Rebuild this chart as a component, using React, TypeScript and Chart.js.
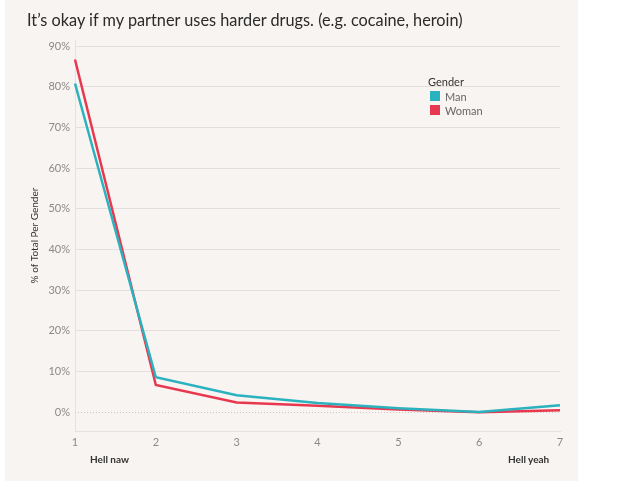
import React, { useRef, useEffect } from 'react';
import { Chart, registerables, Plugin } from 'chart.js';

Chart.register(...registerables);

const categories = ['1', '2', '3', '4', '5', '6', '7'];
const manValues = [80.8, 8.6, 4.2, 2.3, 1.0, 0.1, 1.7];
const womanValues = [86.7, 6.7, 2.4, 1.6, 0.7, 0.0, 0.5];
const yTicks = [0, 10, 20, 30, 40, 50, 60, 70, 80, 90];

const MAN_COLOR = '#2bb2bf';
const WOMAN_COLOR = '#e8384f';
const FONT = 'Lato, "Noto Sans", sans-serif';

// dotted zero line, Tableau style
const zeroLine: Plugin<'line'> = {
  id: 'zeroLine',
  beforeDatasetsDraw(chart) {
    const { ctx, chartArea, scales } = chart;
    const y = Math.round(scales.y.getPixelForValue(0)) + 0.5;
    ctx.save();
    ctx.strokeStyle = '#c9c5c2';
    ctx.lineWidth = 1;
    ctx.setLineDash([1, 2]);
    ctx.beginPath();
    ctx.moveTo(chartArea.left, y);
    ctx.lineTo(chartArea.right, y);
    ctx.stroke();
    ctx.restore();
  },
};

const App: React.FC = () => {
  const chartRef = useRef<HTMLCanvasElement>(null);

  useEffect(() => {
    let chart: Chart<'line'> | null = null;
    if (chartRef.current) {
      const ctx = chartRef.current.getContext('2d');
      if (ctx) {
        chart = new Chart(ctx, {
          type: 'line',
          data: {
            labels: categories,
            datasets: [
              {
                label: 'Man',
                data: manValues,
                borderColor: MAN_COLOR,
                backgroundColor: MAN_COLOR,
                borderWidth: 2.5,
                pointRadius: 0,
                tension: 0,
              },
              {
                label: 'Woman',
                data: womanValues,
                borderColor: WOMAN_COLOR,
                backgroundColor: WOMAN_COLOR,
                borderWidth: 2.5,
                pointRadius: 0,
                tension: 0,
              },
            ],
          },
          options: {
            animation: false,
            responsive: false,
            maintainAspectRatio: false,
            layout: {
              padding: { left: 0, right: 18, top: 40, bottom: 0 },
            },
            plugins: {
              legend: { display: false },
              tooltip: { enabled: false },
            },
            scales: {
              x: {
                offset: false,
                grid: { display: false, drawTicks: false },
                border: { display: true, color: '#e6e2df' },
                ticks: {
                  color: '#8a8a8a',
                  font: { family: FONT, size: 11 },
                  padding: 5,
                  maxRotation: 0,
                },
                afterFit(scale) {
                  scale.height = 50;
                },
              },
              y: {
                min: -4.6,
                max: 91.5,
                afterBuildTicks(scale) {
                  scale.ticks = yTicks.map((v) => ({ value: v }));
                },
                grid: {
                  color: (c) => (c.tick && c.tick.value === 0 ? 'rgba(0,0,0,0)' : '#e3dfdc'),
                  drawTicks: false,
                },
                border: { display: true, color: '#e6e2df' },
                ticks: {
                  color: '#8a8a8a',
                  font: { family: FONT, size: 11 },
                  padding: 5,
                  callback: (v) => `${v}%`,
                },
                title: {
                  display: true,
                  text: '% of Total Per Gender',
                  color: '#333333',
                  font: { family: FONT, size: 10 },
                  padding: { top: 24, bottom: 0 },
                },
                afterFit(scale) {
                  scale.width = 70;
                },
              },
            },
          },
          plugins: [zeroLine],
        });
      }
    }
    return () => {
      if (chart) chart.destroy();
    };
  }, []);

  const legendItems = [
    { label: 'Man', color: MAN_COLOR },
    { label: 'Woman', color: WOMAN_COLOR },
  ];

  return (
    <div style={{ position: 'absolute', left: 0, top: 0, width: 621, height: 481, background: '#ffffff', fontFamily: FONT }}>
      <div style={{ position: 'absolute', left: 5, top: 0, width: 573, height: 481, background: '#f8f4f1' }}>
        <canvas ref={chartRef} width={573} height={481} style={{ position: 'absolute', left: 0, top: 0, width: 573, height: 481 }} />
        <div style={{ position: 'absolute', left: 22, top: 10, fontSize: 16.3, color: '#2b2b2b', whiteSpace: 'nowrap' }}>
          It’s okay if my partner uses harder drugs. (e.g. cocaine, heroin)
        </div>
        <div style={{ position: 'absolute', left: 423, top: 75, fontSize: 11 }}>
          <div style={{ color: '#333333', height: 14, lineHeight: '14px' }}>Gender</div>
          {legendItems.map((it) => (
            <div key={it.label} style={{ display: 'flex', alignItems: 'center', height: 14, color: '#666666' }}>
              <span style={{ display: 'inline-block', width: 10, height: 10, background: it.color, marginRight: 5, marginLeft: 2 }} />
              {it.label}
            </div>
          ))}
        </div>
        <div style={{ position: 'absolute', left: 85, top: 453, fontSize: 10, color: '#333333', fontWeight: 'bold' }}>Hell naw</div>
        <div style={{ position: 'absolute', left: 503, top: 453, fontSize: 10, color: '#333333', fontWeight: 'bold' }}>Hell yeah</div>
      </div>
    </div>
  );
};

export default App;
